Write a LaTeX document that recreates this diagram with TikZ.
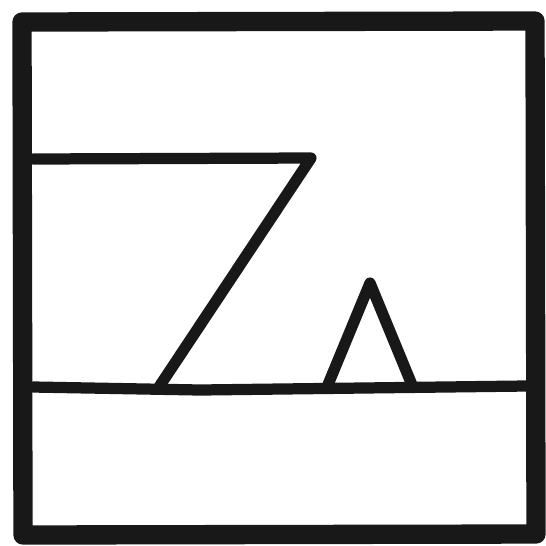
\documentclass[tikz,border=0pt]{standalone}
\usepackage{tikz}
\usetikzlibrary{positioning}
\usetikzlibrary{calc}

\definecolor{ink}{RGB}{24,24,24}

\tikzset{
    frame/.style={draw=ink, line width=11pt, line join=round, line cap=round},
    stroke/.style={draw=ink, line width=6.4pt, line join=round, line cap=round},
}

\begin{document}
\begin{tikzpicture}[x=0.02cm, y=-0.02cm]
        \useasboundingbox (0,0) rectangle (546,545);

        \coordinate (tl) at (22,22);
        \coordinate (tr) at (535,21);
        \coordinate (br) at (536,534);
        \coordinate (bl) at (23,535);

        \coordinate (ltop) at (33,159);
        \coordinate (tip) at (311,158);
        \coordinate (foot) at (159,387);

        \coordinate (gl) at (33,387);
        \coordinate (gm) at (200,390);
        \coordinate (gr) at (526,386);

        \coordinate (apex) at (370,283);
        \coordinate (tleft) at (327,387);
        \coordinate (tright) at (412,385);

        \draw[frame] (tl) -- (tr) -- (br) -- (bl) -- cycle;

        \draw[stroke] (ltop) -- (tip) -- (foot);
        \draw[stroke] (gl) -- (gm) -- (gr);
        \draw[stroke] (tleft) -- (apex) -- (tright);

\end{tikzpicture}
\end{document}
